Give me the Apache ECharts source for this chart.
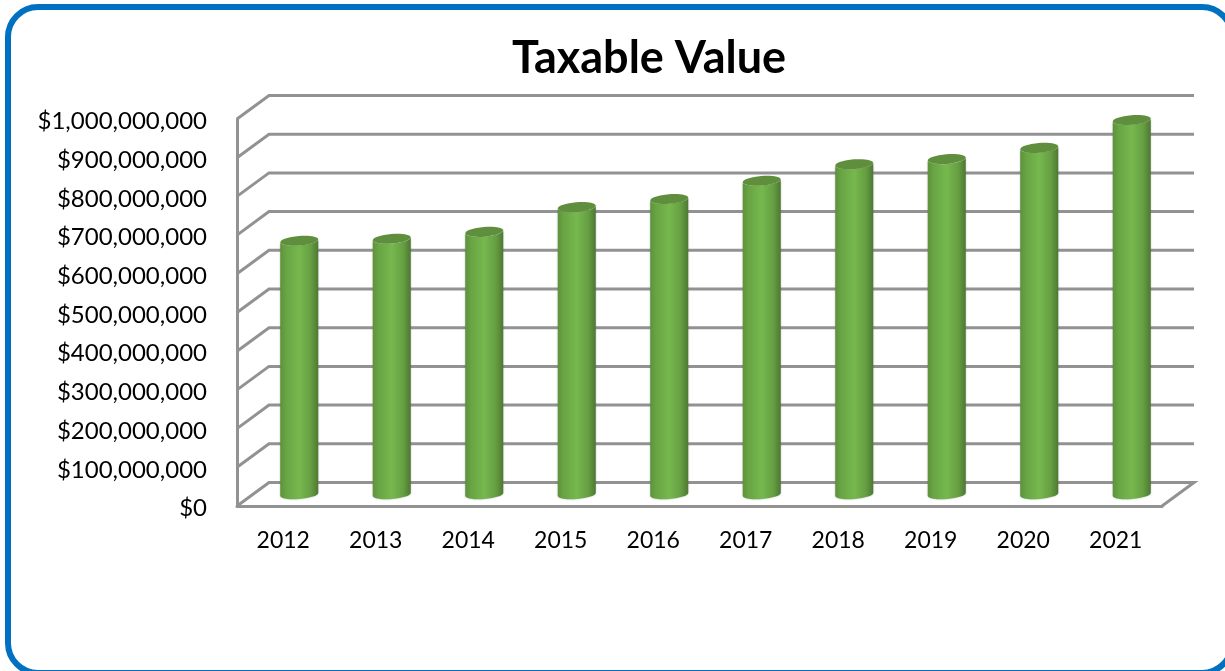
<!DOCTYPE html>
<html>
<head>
<meta charset="utf-8">
<style>html,body{margin:0;padding:0;background:#fff}#chart{width:1225px;height:671px}</style>
<script src="https://cdn.jsdelivr.net/npm/echarts@6/dist/echarts.min.js"></script>
</head>
<body>
<div id="chart"></div>
<script>
// Taxable value by year, in dollars
const years = ['2012','2013','2014','2015','2016','2017','2018','2019','2020','2021'];
const taxableValues = [655000000,660000000,678000000,742000000,763000000,810000000,853000000,866000000,895000000,967000000];
const axisTicks = [0,100000000,200000000,300000000,400000000,500000000,600000000,700000000,800000000,900000000,1000000000];

const GRID_GREY = '#929292';
const FONT = 'Lato, Carlito, sans-serif';
// Pseudo-3D depth of the chart box: back wall offset from the front plane
const DEPTH_X = 32, DEPTH_Y = 23.5;

const chart = echarts.init(document.getElementById('chart'), null, {renderer: 'canvas'});

function renderWallLine(params, api) {
  const cs = params.coordSys;
  const y = api.coord([0, api.value(1)])[1];
  const left = cs.x, right = cs.x + cs.width;
  const pts = api.value(1) === 0
    ? [[left, y], [left + DEPTH_X, y - DEPTH_Y], [right + DEPTH_X, y - DEPTH_Y], [right, y]]
    : [[left, y], [left + DEPTH_X, y - DEPTH_Y], [right + DEPTH_X, y - DEPTH_Y]];
  return {
    type: 'polyline',
    shape: {points: pts},
    style: {stroke: GRID_GREY, lineWidth: 3, fill: null}
  };
}

function renderCylinder(params, api) {
  const idx = api.value(0);
  const top = api.coord([idx, api.value(1)]);
  const base = api.coord([idx, 0]);
  // Columns stand halfway into the depth of the box
  const cx = top[0] + DEPTH_X / 2;
  const yTop = top[1] - DEPTH_Y / 2;
  const yBase = base[1] - DEPTH_Y / 2;
  const rx = 19, ry = 4.8, tilt = -4.5, dy = 19 * Math.sin(tilt * Math.PI / 180);
  const body = [
    'M', cx - rx, yTop - dy,
    'L', cx - rx, yBase - dy,
    'A', rx, ry, tilt, 0, 0, cx + rx, yBase + dy,
    'L', cx + rx, yTop + dy,
    'A', rx, ry, tilt, 0, 1, cx - rx, yTop - dy,
    'Z'
  ].join(' ');
  return {
    type: 'group',
    children: [
      {
        type: 'path',
        shape: {pathData: body},
        style: {
          fill: new echarts.graphic.LinearGradient(0, 0, 1, 0, [
            {offset: 0, color: '#5e913c'},
            {offset: 0.15, color: '#68a443'},
            {offset: 0.5, color: '#76b84e'},
            {offset: 0.8, color: '#669f42'},
            {offset: 1, color: '#4d7832'}
          ]),
          shadowColor: 'rgba(80,80,80,0.4)',
          shadowBlur: 2
        }
      },
      {
        type: 'ellipse',
        x: cx, y: yTop,
        rotation: -tilt * Math.PI / 180,
        shape: {cx: 0, cy: 0, rx: rx, ry: ry},
        style: {fill: '#5f8e3d'}
      }
    ]
  };
}

chart.setOption({
  animation: false,
  backgroundColor: '#ffffff',
  title: {
    text: 'Taxable Value',
    left: 644,
    top: 31,
    textAlign: 'center',
    textStyle: {fontFamily: FONT, fontSize: 45, fontWeight: 'bold', color: '#000'}
  },
  graphic: [{
    type: 'rect',
    silent: true,
    z: 100,
    shape: {x: 8, y: 7, width: 1224, height: 666, r: 30},
    style: {fill: null, stroke: '#0070c0', lineWidth: 6}
  }],
  grid: {left: 237, right: 63, top: 119, bottom: 165},
  xAxis: {
    type: 'category',
    data: years,
    axisTick: {show: false},
    axisLine: {lineStyle: {color: GRID_GREY, width: 3}},
    axisLabel: {color: '#000', fontFamily: FONT, fontSize: 23, margin: 23}
  },
  yAxis: {
    type: 'value',
    min: 0,
    max: 1000000000,
    interval: 100000000,
    splitLine: {show: false},
    axisTick: {show: false},
    axisLine: {show: true, lineStyle: {color: GRID_GREY, width: 3}},
    axisLabel: {
      color: '#000', fontFamily: FONT, fontSize: 24, margin: 30,
      verticalAlign: 'top',
      lineHeight: 5,
      formatter: v => '$' + v.toLocaleString('en-US')
    }
  },
  series: [
    {
      type: 'custom',
      name: 'Walls',
      clip: false,
      silent: true,
      z: 1,
      renderItem: renderWallLine,
      encode: {x: 0, y: 1},
      data: axisTicks.map(v => [0, v])
    },
    {
      type: 'custom',
      name: 'Taxable Value',
      clip: false,
      z: 2,
      renderItem: renderCylinder,
      encode: {x: 0, y: 1},
      data: taxableValues.map((v, i) => [i, v])
    }
  ]
});
</script>
</body>
</html>
